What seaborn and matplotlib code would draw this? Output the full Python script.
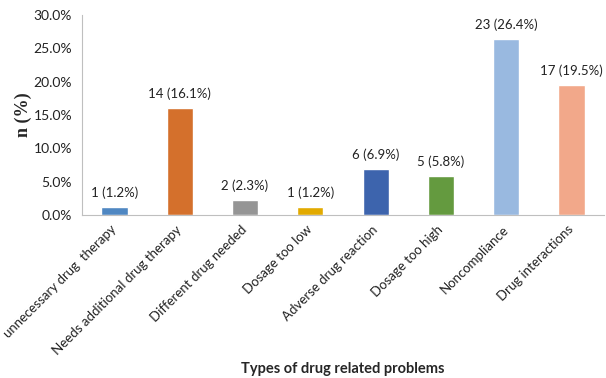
import numpy as np
import pandas as pd
import matplotlib
matplotlib.use("Agg")
import matplotlib.pyplot as plt
import seaborn as sns

# Data
problems = ["unnecessary drug  therapy", "Needs additional drug therapy", "Different drug needed",
            "Dosage too low", "Adverse drug reaction", "Dosage too high",
            "Noncompliance", "Drug interactions"]
counts = [1, 14, 2, 1, 6, 5, 23, 17]
percents = [1.2, 16.1, 2.3, 1.2, 6.9, 5.8, 26.4, 19.5]
colors = ["#4f87c2", "#d4702c", "#959595", "#e2aa00", "#3d64ad", "#649a3f", "#99b9e0", "#f2a88a"]

df = pd.DataFrame({"problem": problems, "pct": percents})

sns.set_style("white")
plt.rcParams["font.family"] = ["Lato", "DejaVu Sans"]

fig = plt.figure(figsize=(6.06, 3.78), dpi=100)
ax = fig.add_axes([0.135, 0.431, 0.862, 0.529])

sns.barplot(data=df, x="problem", y="pct", hue="problem", palette=colors,
            legend=False, width=0.4, ax=ax, saturation=1)

for i, (n, p) in enumerate(zip(counts, percents)):
    ax.text(i, p + 1.2, f"{n} ({p}%)", ha="center", va="bottom", fontsize=9.5, color="#222222")

ax.set_ylim(0, 30)
ax.set_xlim(-0.5, len(problems) - 0.5)
ax.set_yticks(np.arange(0, 30.1, 5))
ax.set_yticklabels([f"{v:.1f}%" for v in np.arange(0, 30.1, 5)], fontsize=10, color="#222222")

ax.set_xticks(range(len(problems)))
ax.set_xticklabels(problems, rotation=45, ha="right", va="center", rotation_mode="anchor",
                   fontsize=9.5, color="#222222")
ax.tick_params(axis="x", length=0, pad=9)
# tick marks between categories
ax.set_xticks(np.arange(0.5, len(problems) - 0.5, 1), minor=True)
ax.tick_params(axis="x", which="minor", length=4, color="#bfbfbf", direction="out")
ax.tick_params(axis="y", length=4, color="#bfbfbf", direction="out", pad=3)

for side in ["top", "right"]:
    ax.spines[side].set_visible(False)
for side in ["left", "bottom"]:
    ax.spines[side].set_color("#bfbfbf")
    ax.spines[side].set_linewidth(0.8)

ax.set_ylabel("n (%)", fontsize=13, fontweight="bold", family="Liberation Serif", labelpad=1)
ax.set_xlabel("Types of drug related problems", fontsize=10.5, fontweight="bold", labelpad=4)
ax.grid(False)

fig.savefig("out.png", dpi=100)
